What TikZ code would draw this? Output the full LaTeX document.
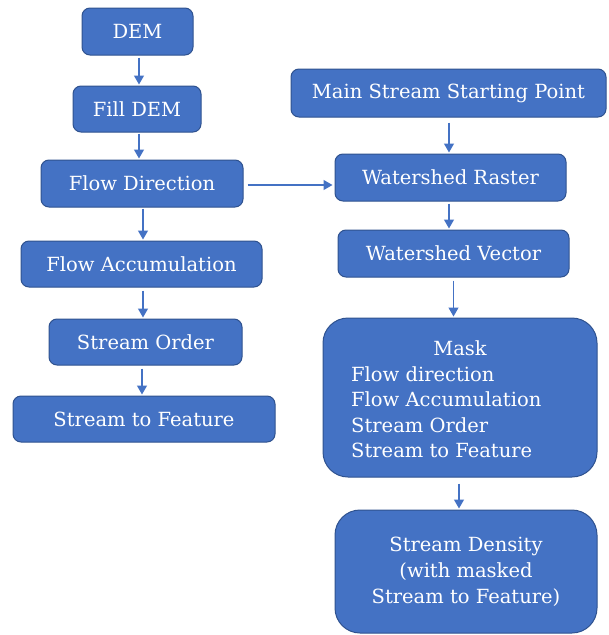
\documentclass[tikz,border=0pt]{standalone}
\usepackage{fontspec}
\setmainfont{DejaVu Serif}
\usetikzlibrary{arrows.meta}
\definecolor{boxfill}{HTML}{4472C4}
\definecolor{boxline}{HTML}{2F528F}
\tikzset{
  stepbox/.style={draw=boxline, line width=1pt, fill=boxfill, rounded corners=8pt,
    text=white, inner sep=0pt, font=\fontsize{19.5}{26}\selectfont},
  bigbox/.style={stepbox, rounded corners=25pt},
  txt/.style={text=white, inner sep=0pt, font=\fontsize{19.5}{26}\selectfont},
  arr/.style={draw=boxfill, line width=1.2pt, -{Triangle[width=10pt,length=9pt]}, shorten >=1pt}
}
\begin{document}
\begin{tikzpicture}[x=1pt,y=-1pt]
\useasboundingbox (0,0) rectangle (609,635);
\node[stepbox, minimum width=111, minimum height=47] (dem) at (137.5,31.5) {DEM};
\node[stepbox, minimum width=128, minimum height=46] (fill) at (137,109) {Fill DEM};
\node[stepbox, minimum width=202, minimum height=47] (flowdir) at (142,183.5) {Flow Direction};
\node[stepbox, minimum width=241, minimum height=46] (flowacc) at (141.5,264) {Flow Accumulation};
\node[stepbox, minimum width=193, minimum height=46] (order) at (145.5,342) {Stream Order};
\node[stepbox, minimum width=262, minimum height=46] (stf) at (144,419) {Stream to Feature};
\node[stepbox, minimum width=315, minimum height=48] (main) at (448.5,93) {Main Stream Starting Point};
\node[stepbox, minimum width=231, minimum height=47] (raster) at (450.5,177.5) {Watershed Raster};
\node[stepbox, minimum width=231, minimum height=47] (vector) at (453.5,253.5) {Watershed Vector};
\node[bigbox, minimum width=274, minimum height=159] (mask) at (460,397.5) {};
\node[txt] (masktitle) at (460,348) {Mask};
\node[txt, anchor=west] (m1) at (351,374) {Flow direction};
\node[txt, anchor=west] (m2) at (351,399.5) {Flow Accumulation};
\node[txt, anchor=west] (m3) at (351,425) {Stream Order};
\node[txt, anchor=west] (m4) at (351,450.5) {Stream to Feature};
\node[bigbox, minimum width=262, minimum height=123, align=center] (density) at (466,571.5) {Stream Density\\(with masked\\Stream to Feature)};

\draw[arr, shorten <=2pt] ([xshift=1.5pt]dem.south) -- ([xshift=1.5pt]dem.south |- fill.north);
\draw[arr, shorten <=1pt] ([xshift=2pt]fill.south) -- ([xshift=2pt]fill.south |- flowdir.north);
\draw[arr, shorten <=1pt] ([xshift=1pt]flowdir.south) -- ([xshift=1pt]flowdir.south |- flowacc.north);
\draw[arr, shorten <=3pt] ([xshift=1.5pt]flowacc.south) -- ([xshift=1.5pt]flowacc.south |- order.north);
\draw[arr, shorten <=3pt] ([xshift=-3.5pt]order.south) -- ([xshift=-3.5pt]order.south |- stf.north);
\draw[arr, shorten <=4pt, shorten >=2pt] ([yshift=-1.5pt]flowdir.east) -- ([yshift=-1.5pt]flowdir.east -| raster.west);
\draw[arr, shorten <=5pt] ([xshift=0.5pt]main.south) -- ([xshift=0.5pt]main.south |- raster.north);
\draw[arr, shorten <=2pt] ([xshift=-1.5pt]raster.south) -- ([xshift=-1.5pt]raster.south |- vector.north);
\draw[arr, shorten <=3pt] (vector.south) -- (vector.south |- mask.north);
\draw[arr, shorten <=6pt] ([xshift=-1pt]mask.south) -- ([xshift=-1pt]mask.south |- density.north);
\end{tikzpicture}
\end{document}
